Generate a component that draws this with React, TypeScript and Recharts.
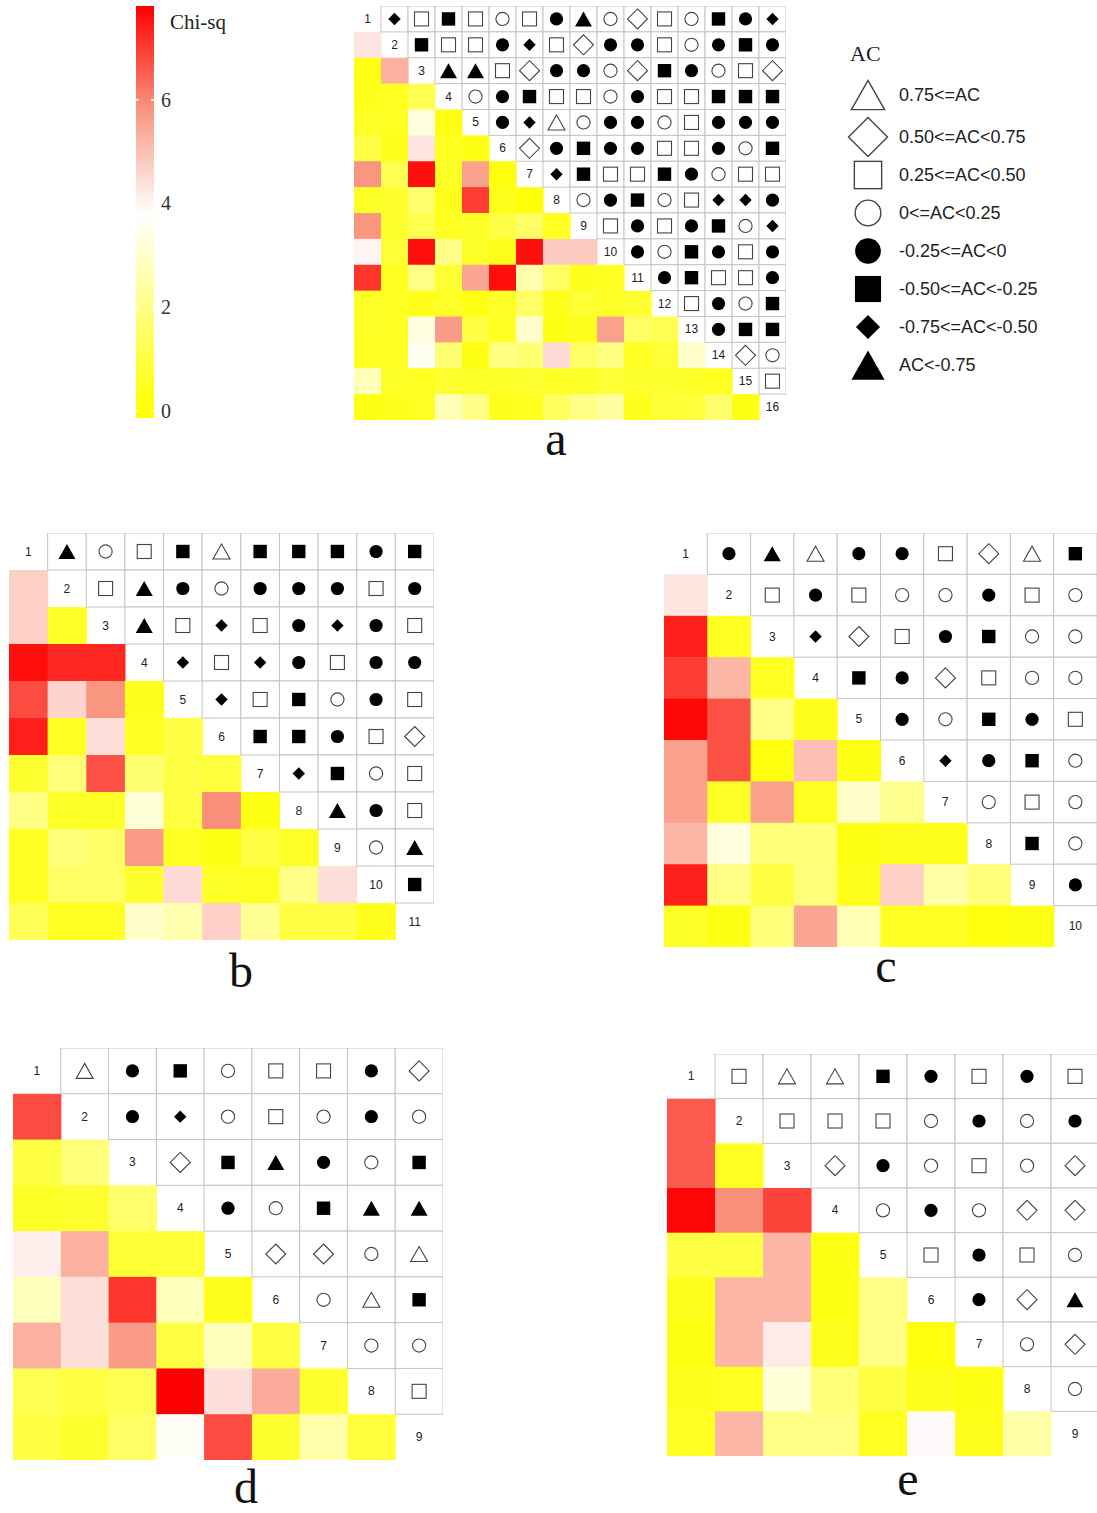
import { ScatterChart, Scatter, XAxis, YAxis, BarChart, Bar } from 'recharts';

// AC symbol codes: T open triangle, D open diamond, S open square, C open circle,
// c filled circle, s filled square, d filled diamond, t filled triangle
const acA = [
  'dSsSCSctCDSCscd', 'sSScdSDccSCcsc', 'ttSDccCDscCSD', 'CcsSSCcSSsss', 'cdTCccCSccc',
  'DcsccSScCs', 'dsSSscCSS', 'CcsCSddc', 'ScScsCd', 'cCscSc', 'csSSc', 'ScCs', 'css', 'DC', 'S',
];
const chiA = [
  [4.3],
  [0.3, 5.3],
  [0.4, 0.5, 1.2],
  [0.6, 0.5, 3.3, 0.3],
  [1.0, 0.4, 4.3, 0.5, 0.3],
  [5.8, 1.2, 7.6, 0.6, 5.6, 0.2],
  [0.6, 0.7, 1.6, 0.4, 7.0, 0.4, 0.1],
  [5.8, 0.7, 1.2, 0.5, 0.6, 1.0, 1.5, 0.5],
  [4.0, 0.8, 7.6, 2.0, 0.6, 0.4, 7.6, 4.8, 4.8],
  [7.1, 0.5, 2.0, 0.8, 5.5, 7.6, 2.6, 1.5, 0.4, 0.5],
  [0.6, 0.5, 0.4, 0.6, 0.3, 0.6, 1.5, 0.4, 0.8, 0.6, 0.7],
  [0.6, 0.5, 3.3, 5.7, 1.0, 0.5, 3.0, 0.3, 0.4, 5.6, 1.5, 1.2],
  [0.5, 0.5, 3.6, 1.7, 0.3, 1.9, 1.7, 4.5, 1.5, 1.9, 0.5, 0.8, 3.0],
  [2.8, 0.6, 0.5, 0.7, 0.6, 0.6, 0.7, 0.6, 0.6, 0.8, 0.7, 0.7, 0.6, 0.5],
  [0.3, 0.4, 0.5, 2.7, 2.0, 0.4, 0.5, 1.4, 2.0, 2.4, 0.4, 0.8, 0.9, 1.6, 0.3],
];

const acB = ['tCSsTssscs', 'StcCcccSc', 'tSdScdcS', 'dSdcScc', 'dSsCcS', 'sscSD', 'dsCS', 'tcS', 'Ct', 's'];
const chiB = [
  [4.7],
  [4.7, 0.6],
  [7.6, 7.3, 7.3],
  [6.8, 4.6, 5.8, 0.4],
  [7.4, 0.5, 4.4, 0.5, 1.0],
  [0.7, 1.8, 6.7, 1.7, 1.0, 0.9],
  [2.0, 0.6, 0.6, 3.2, 1.0, 5.9, 0.3],
  [0.5, 1.8, 1.5, 5.7, 0.5, 0.3, 1.0, 0.6],
  [0.5, 1.5, 1.5, 0.7, 4.5, 0.6, 0.5, 2.0, 4.4],
  [1.3, 0.5, 0.5, 3.0, 2.6, 4.7, 2.2, 1.0, 1.0, 0.4],
];

const acC = ['ctTccSDTs', 'ScSCCcSC', 'dDScsCC', 'scDSCC', 'cCscS', 'dcsC', 'CSC', 'sC', 'c'];
const chiC = [
  [4.3],
  [7.4, 0.5],
  [7.0, 5.2, 0.5],
  [7.7, 6.7, 2.0, 0.4],
  [5.6, 6.7, 0.2, 5.0, 0.3],
  [5.6, 0.6, 5.6, 0.5, 3.0, 2.1],
  [5.2, 3.3, 1.8, 1.8, 0.3, 0.4, 0.4],
  [7.4, 2.0, 1.0, 1.8, 0.4, 4.7, 2.5, 1.8],
  [0.6, 0.3, 1.8, 5.5, 2.7, 0.5, 0.5, 0.2, 0.3],
];

const acD = ['TcsCSScD', 'cdCSCcC', 'DstcCs', 'cCstt', 'DDCT', 'CTs', 'CC', 'S'];
const chiD = [
  [6.8],
  [1.0, 1.8],
  [0.6, 0.7, 1.6],
  [4.1, 5.3, 0.8, 0.8],
  [2.8, 4.4, 7.1, 2.8, 0.4],
  [5.3, 4.4, 5.7, 1.0, 2.8, 1.0],
  [1.2, 1.0, 1.2, 7.8, 4.4, 5.4, 0.7],
  [1.0, 0.7, 1.5, 3.7, 6.8, 0.7, 2.6, 0.9],
];

const acE = ['STTscScS', 'SSSCcCc', 'DcCSCD', 'CcCDD', 'ScSC', 'cDt', 'CD', 'C'];
const chiE = [
  [6.6],
  [6.6, 0.5],
  [7.7, 5.9, 6.9],
  [1.0, 1.0, 5.2, 0.3],
  [0.4, 5.2, 5.2, 0.3, 2.0],
  [0.3, 5.2, 4.2, 0.4, 2.0, 0.2],
  [0.4, 0.5, 3.2, 1.8, 1.0, 0.4, 0.3],
  [0.5, 5.2, 2.0, 2.0, 0.5, 3.9, 0.4, 2.5],
];

const legendCodes = ['T', 'D', 'S', 'C', 'c', 's', 'd', 't'];
const legendLabels = [
  '0.75<=AC', '0.50<=AC<0.75', '0.25<=AC<0.50', '0<=AC<0.25',
  '-0.25<=AC<0', '-0.50<=AC<-0.25', '-0.75<=AC<-0.50', 'AC<-0.75',
];

const chiTicks = [0, 2, 4, 6];
const chiDomain: [number, number] = [-0.14, 7.81];
const chiBar = [{ name: 'Chi-sq', range: chiDomain }];

// カラーマップ: 黄 → 白 → サーモン → 赤
const chiStops: [number, number[]][] = [
  [0, [255, 255, 0]],
  [3.8, [255, 255, 255]],
  [5.8, [249, 150, 128]],
  [7.8, [255, 0, 0]],
];

function chiColor(v: number): string {
  if (v <= chiStops[0][0]) return `rgb(${chiStops[0][1].join(',')})`;
  for (let i = 1; i < chiStops.length; i++) {
    const [v1, c1] = chiStops[i];
    const [v0, c0] = chiStops[i - 1];
    if (v <= v1) {
      const t = (v - v0) / (v1 - v0);
      const c = c0.map((a, j) => Math.round(a + (c1[j] - a) * t));
      return `rgb(${c.join(',')})`;
    }
  }
  return `rgb(${chiStops[chiStops.length - 1][1].join(',')})`;
}

const SANS = '"Liberation Sans", Arial, sans-serif';
const SERIF = '"Liberation Serif", "Times New Roman", serif';

function AcSymbol({ k, cx, cy, s = 1, sw = 1.1 }: { k: string; cx: number; cy: number; s?: number; sw?: number }) {
  const open = { fill: '#fff', stroke: '#444', strokeWidth: sw };
  const filled = { fill: '#000' };
  const tri = (w: number, h: number) => `${cx},${cy - h} ${cx + w},${cy + h} ${cx - w},${cy + h}`;
  const dia = (r: number) => `${cx},${cy - r} ${cx + r},${cy} ${cx},${cy + r} ${cx - r},${cy}`;
  switch (k) {
    case 'T':
      return <polygon points={tri(8.5 * s, 7.5 * s)} {...open} />;
    case 't':
      return <polygon points={tri(8.5 * s, 7.5 * s)} {...filled} />;
    case 'D':
      return <polygon points={dia(10 * s)} {...open} />;
    case 'd':
      return <polygon points={dia(6.2 * s)} {...filled} />;
    case 'S':
      return <rect x={cx - 7 * s} y={cy - 7 * s} width={14 * s} height={14 * s} {...open} />;
    case 's':
      return <rect x={cx - 6.7 * s} y={cy - 6.7 * s} width={13.4 * s} height={13.4 * s} {...filled} />;
    case 'C':
      return <circle cx={cx} cy={cy} r={6.6 * s} {...open} />;
    default:
      return <circle cx={cx} cy={cy} r={6.6 * s} {...filled} />;
  }
}

function buildCells(chi: number[][], ac: string[]) {
  const n = ac.length + 1;
  const heat: { x: number; y: number; v: number }[] = [];
  const sym: { x: number; y: number; k: string }[] = [];
  const diag: { x: number; y: number; label: string }[] = [];
  for (let i = 1; i <= n; i++) diag.push({ x: i, y: i, label: String(i) });
  chi.forEach((row, r) => row.forEach((v, c) => heat.push({ x: c + 1, y: r + 2, v })));
  ac.forEach((row, r) => row.split('').forEach((k, c) => sym.push({ x: r + 2 + c, y: r + 1, k })));
  return { n, heat, sym, diag };
}

interface MatrixProps {
  chi: number[][];
  ac: string[];
  left: number;
  top: number;
  width: number;
  height: number;
}

function Matrix({ chi, ac, left, top, width, height }: MatrixProps) {
  const { n, heat, sym, diag } = buildCells(chi, ac);
  const cw = width / n;
  const ch = height / n;
  return (
    <div style={{ position: 'absolute', left, top }}>
      <ScatterChart width={width} height={height} margin={{ top: 0, right: 0, bottom: 0, left: 0 }}>
        <XAxis type="number" dataKey="x" domain={[0.5, n + 0.5]} hide />
        <YAxis type="number" dataKey="y" domain={[0.5, n + 0.5]} reversed hide />
        <Scatter
          data={heat}
          isAnimationActive={false}
          shape={(p: any) => (
            <rect x={p.cx - cw / 2} y={p.cy - ch / 2} width={cw + 0.6} height={ch + 0.6} fill={chiColor(p.payload.v)} />
          )}
        />
        <Scatter
          data={sym}
          isAnimationActive={false}
          shape={(p: any) => (
            <g>
              <rect x={p.cx - cw / 2} y={p.cy - ch / 2} width={cw} height={ch} fill="#fff" stroke="#c4c4c4" strokeWidth={1} />
              <AcSymbol k={p.payload.k} cx={p.cx} cy={p.cy} />
            </g>
          )}
        />
        <Scatter
          data={diag}
          isAnimationActive={false}
          shape={(p: any) => (
            <text x={p.cx} y={p.cy} textAnchor="middle" dominantBaseline="central" fontSize={12} fontFamily={SANS} fill="#222">
              {p.payload.label}
            </text>
          )}
        />
      </ScatterChart>
    </div>
  );
}

function ChiTick({ x, y, payload }: any) {
  return (
    <g>
      <line x1={x - 20} x2={x - 16} y1={y} y2={y} stroke="#fff" strokeWidth={1.5} />
      <line x1={x - 4} x2={x} y1={y} y2={y} stroke="#fff" strokeWidth={1.5} />
      <text x={x + 6} y={y} dominantBaseline="central" fontSize={20} fontFamily={SERIF} fill="#333">
        {payload.value}
      </text>
    </g>
  );
}

function ColorBar() {
  const [lo, hi] = chiDomain;
  // SVG のストップは offset 昇順で並べる（上 = 最大値）
  const stops = [...chiStops].reverse();
  return (
    <div style={{ position: 'absolute', left: 135, top: 6 }}>
      <BarChart width={80} height={428} data={chiBar} margin={{ top: 0, right: 0, bottom: 16, left: 0 }} barCategoryGap={0}>
        <defs>
          <linearGradient id="chiGrad" x1="0" y1="0" x2="0" y2="1">
            {stops.map(([v, c]) => (
              <stop key={v} offset={(hi - v) / (hi - lo)} stopColor={`rgb(${c.join(',')})`} />
            ))}
          </linearGradient>
        </defs>
        <XAxis dataKey="name" hide />
        <YAxis
          orientation="right"
          type="number"
          domain={chiDomain}
          ticks={chiTicks}
          interval={0}
          width={60}
          axisLine={false}
          tickLine={false}
          tickSize={0}
          tickMargin={0}
          tick={<ChiTick />}
        />
        <Bar dataKey="range" fill="url(#chiGrad)" barSize={20} isAnimationActive={false} />
      </BarChart>
    </div>
  );
}

function Annotations() {
  const letters = [
    { t: 'a', x: 556, y: 455 },
    { t: 'b', x: 241, y: 987 },
    { t: 'c', x: 886, y: 982 },
    { t: 'd', x: 246, y: 1503 },
    { t: 'e', x: 908, y: 1495 },
  ];
  return (
    <svg width={1097} height={1513} style={{ position: 'absolute', left: 0, top: 0 }}>
      <text x={170} y={29} fontSize={21} fontFamily={SERIF} fill="#222">Chi-sq</text>
      <text x={850} y={61} fontSize={22} fontFamily={SERIF} fill="#222">AC</text>
      {legendCodes.map((k, i) => {
        const cy = i === 0 ? 95 : 137 + (i - 1) * 38;
        return (
          <g key={k}>
            <AcSymbol k={k} cx={868} cy={cy} s={1.95} sw={1.4} />
            <text x={899} y={cy} dominantBaseline="central" fontSize={18} fontFamily={SANS} fill="#222">
              {legendLabels[i]}
            </text>
          </g>
        );
      })}
      {letters.map((l) => (
        <text key={l.t} x={l.x} y={l.y} textAnchor="middle" fontSize={48} fontFamily={SERIF} fill="#111">
          {l.t}
        </text>
      ))}
    </svg>
  );
}

export default function App() {
  return (
    <div style={{ position: 'absolute', left: 0, top: 0, width: 1097, height: 1513, background: '#fff', overflow: 'hidden' }}>
      <Annotations />
      <ColorBar />
      <Matrix chi={chiA} ac={acA} left={354} top={6} width={432} height={414} />
      <Matrix chi={chiB} ac={acB} left={9} top={533} width={425} height={407} />
      <Matrix chi={chiC} ac={acC} left={664} top={533} width={433} height={414} />
      <Matrix chi={chiD} ac={acD} left={13} top={1048} width={430} height={412} />
      <Matrix chi={chiE} ac={acE} left={667} top={1054} width={432} height={402} />
    </div>
  );
}
